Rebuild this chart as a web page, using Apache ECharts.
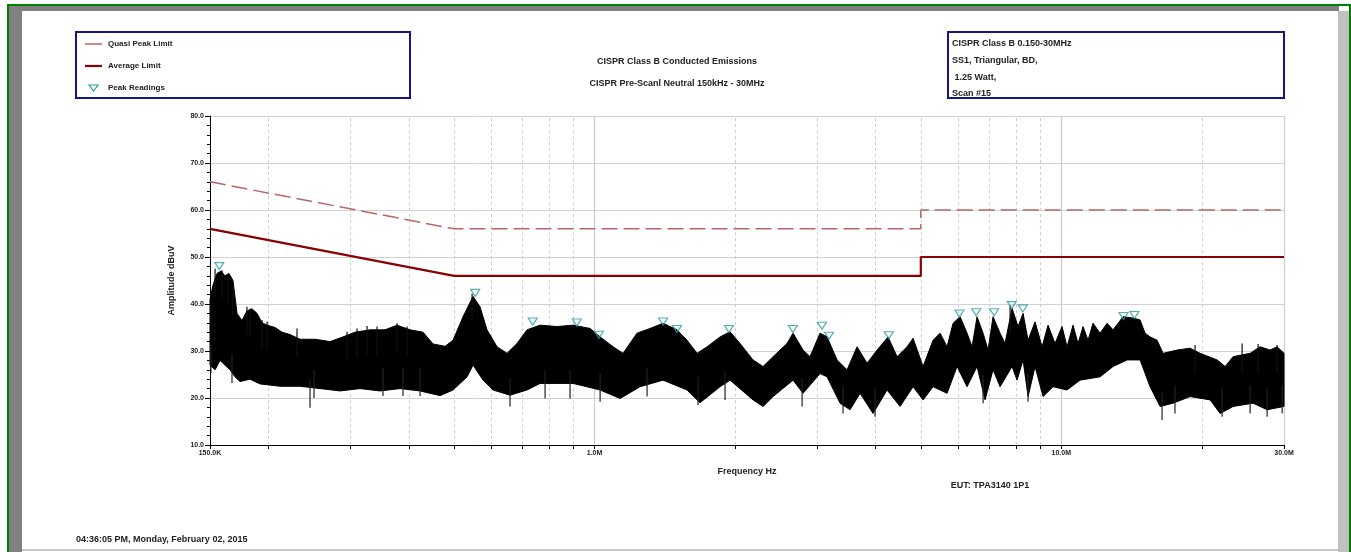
<!DOCTYPE html>
<html><head><meta charset="utf-8">
<script src="https://cdn.jsdelivr.net/npm/echarts@6/dist/echarts.min.js"></script>
<style>html,body{margin:0;padding:0;background:#fff}#c{width:1351px;height:552px}</style>
</head><body><div id="c"></div>
<script>
// Limits (frequency in MHz, level in dBuV)
const qpFreq  = [0.15, 0.5, 5, 5, 30];
const qpLevel = [66, 56, 56, 60, 60];
const avgFreq  = [0.15, 0.5, 5, 5, 30];
const avgLevel = [56, 46, 46, 50, 50];

// Peak readings
const peakFreq  = [0.157, 0.555, 0.737, 0.916, 1.022, 1.402, 1.502, 1.941, 2.66, 3.07, 3.18, 4.27, 6.05, 6.57, 7.18, 7.83, 8.27, 13.59, 14.34];
const peakLevel = [47.0, 41.3, 35.2, 35.0, 32.4, 35.2, 33.6, 33.6, 33.6, 34.3, 32.2, 32.3, 36.9, 37.2, 37.2, 38.7, 38.0, 36.4, 36.6];

// Scan trace: upper envelope
const upperFreq = [0.15,0.1522,0.1553,0.1584,0.1615,0.1647,0.168,0.1714,0.1756,0.18,0.1845,0.1892,0.1939,0.1988,0.2068,0.214,0.2226,0.2338,0.2518,0.2712,0.2891,0.3068,0.3303,0.3557,0.3774,0.4024,0.4291,0.4508,0.4783,0.4976,
0.5227,0.5491,0.5684,0.5883,0.6181,0.6494,0.6821,0.7166,0.764,0.8312,0.8998,0.9783,1.0278,1.0957,1.1511,1.2331,1.315,1.4018,1.5021,1.5783,1.6581,1.742,1.8572,1.9511,2.0496,2.1857,2.2964,2.4125,2.5844,2.6624,2.7971,2.8953,3.0416,3.1484,3.308,3.4754,3.6512,3.8358,4.0299,4.2545,4.4472,4.6728,4.8128,
5.0564,5.3126,5.4992,5.6924,5.8626,6.0687,6.2819,6.4386,6.5991,6.7979,6.9678,7.1414,7.3925,7.5768,7.8429,8.0786,8.2812,8.4878,8.7858,9.0945,9.3668,9.6957,10.036,10.287,10.596,10.861,11.132,11.41,11.694,12.109,12.534,12.911,13.565,14.249,14.75,15.117,15.495,16.04,16.524,17.705,18.88,19.836,21.572,22.439,23.34,25.38,26.663,28.013,28.997,30];
const upperLevel = [41,44,46.5,47,46,46.5,45,38,36.5,38.5,39,38,36,35.5,35,34,33.5,32.5,32.5,32,33,34,34.5,34.5,35.5,34.5,34,31.5,31,32.3,
37.3,41.6,39.4,34.5,30.9,29.5,31.6,34.5,35.5,35.2,35.5,34.8,33,30.9,29.5,33.8,34.8,35.9,34.5,32.3,29.5,30.9,33,34.1,31.6,28.1,26.7,28.8,31.6,33.8,30.2,28.8,33.8,33,28.1,26,30.9,27.4,30.2,33,28.8,30.9,32.7,
26.7,32.3,33.8,30.9,35.9,37.3,33.8,30.9,37.3,33.8,30.2,37.3,33.8,31.6,39.1,35.2,38,32.3,36.2,30.9,35.5,31.6,35.2,30.9,35.5,31.6,35.2,32.3,35.9,33.8,35.9,34.5,37.3,37,36.6,33.8,33,32.3,29.5,30.2,30.6,29.5,28.1,26.7,28.8,29.5,30.9,30.2,30.9,29.5];

// Scan trace: lower envelope
const lowerFreq = [0.15,0.1538,0.1576,0.1615,0.1656,0.1697,0.1739,0.1827,0.192,0.2119,0.2338,0.2581,0.2849,0.3144,0.347,0.383,0.4228,0.4667,0.4976,
0.5332,0.5491,0.5769,0.606,0.659,0.7166,0.764,0.8998,1.0278,1.1342,1.2517,1.4018,1.5783,1.6829,1.8572,1.9511,2.1857,2.2964,2.4125,2.6624,2.7971,3.0416,3.1484,3.3573,3.5271,3.7061,3.9509,4.2336,4.514,4.8128,
5.0564,5.3126,5.6924,5.9799,6.2819,6.5991,6.8655,7.1414,7.3925,7.8429,8.0385,8.2812,8.4878,8.7858,9.1395,9.6005,10.287,10.968,12.109,12.911,13.835,14.75,15.495,16.281,17.361,18.88,20.84,21.894,23.34,25.758,27.6,30];
const lowerLevel = [27,26,28,27,26,24.5,23.5,24,23,22.5,22.5,22,21.5,22,21.5,22,21.5,20.5,21.7,
24.5,27,23.8,21.7,20.6,21.7,23.1,23.1,21.7,19.9,22.4,23.8,21.7,19,22.4,23.8,19.6,18.2,20.3,23.8,21,25.2,24.5,18.9,17.5,21,16.7,21.7,18.2,22.4,
19.6,22.4,21,26.7,22.4,26.7,19.6,26,22.4,26.7,23.8,28.1,20.3,26.7,20.3,22.4,21.7,23.8,24.5,26.7,28.1,28.1,22.4,18.2,18.9,20.3,19.6,16.7,18.2,18.9,17.5,18.2];

// Individual spikes sticking out of the trace band
const spikeUpFreq  = [0.1538,0.1592,0.1639,0.168,0.18,0.1827,0.1939,0.1988,0.2304,0.2949,0.3098,0.3255,0.342,0.3774,0.3965,0.5465,7.768,19.35,24.4,26.4,29.0];
const spikeUpLevel = [47.5,47.2,45.8,43.6,39.4,39,36.6,36.3,34.8,34.1,34.8,35.3,35.2,35.9,35.2,42.2,39.8,31.3,31.6,31.5,31.3];
const spikeDownFreq  = [0.1507,0.1672,0.2457,0.2506,0.3522,0.3887,0.4228,0.659,0.7834,0.8861,1.0278,1.2957,1.6662,1.9035,2.784,3.407,3.99,6.798,8.488,16.44,17.52,22.11,25.38,27.6,29.73];
const spikeDownLevel = [25.3,23.2,17.9,20,20.4,20.4,20.4,18.2,19.9,19.9,19.2,20.3,18.5,19.6,18.2,16.7,16,18.9,19.2,15.3,16.7,16,16.7,16,16.7];

// Axis decorations
const xLabelValues = [0.15, 1, 10, 30];
const xTickValues = [0.15,0.2,0.3,0.4,0.5,0.6,0.7,0.8,0.9,1,2,3,4,5,6,7,8,9,10,20,30];
const xMinorGrid = [0.2,0.3,0.4,0.5,0.6,0.7,0.8,0.9,2,3,4,5,6,7,8,9,20];
const xMajorGrid = [1, 10, 30];

const FONT = 'Liberation Sans, Arial, sans-serif';
const TXT = '#222';
const QP_COLOR = '#b86666', AVG_COLOR = '#8b0000', PEAK_COLOR = '#2a9d9d';
const chart = echarts.init(document.getElementById('c'), null, {renderer:'canvas'});

function pairs(a, b){ return a.map((v,i)=>[v, b[i]]); }

const gridLines = xMinorGrid.map(f=>({xAxis:f, lineStyle:{color:'#cfcfcf', type:[3,3], width:1}}))
  .concat(xMajorGrid.map(f=>({xAxis:f, lineStyle:{color:'#cccccc', type:'solid', width:1.2}})));

function txt(x, y, s, opt){
  return Object.assign({type:'text', x:x, y:y, silent:true,
    style:Object.assign({text:s, fill:TXT, font:'bold 9px '+FONT, textVerticalAlign:'middle'}, opt||{})});
}

chart.setOption({
  animation:false,
  backgroundColor:'#ffffff',
  grid:{left:210, right:67, top:116, bottom:107, containLabel:false},
  xAxis:{
    type:'log', logBase:10, min:0.15, max:30,
    name:'Frequency Hz', nameLocation:'middle', nameGap:22,
    nameTextStyle:{fontSize:9, fontWeight:'bold', color:TXT, fontFamily:FONT},
    axisLine:{show:true, lineStyle:{color:'#000', width:1}},
    axisTick:{show:true, length:4, customValues:xTickValues, lineStyle:{color:'#000'}},
    axisLabel:{customValues:xLabelValues, fontSize:7, fontWeight:'bold', color:TXT, fontFamily:FONT, margin:5,
      showMinLabel:true, showMaxLabel:true,
      formatter:function(v){ return v < 1 ? (v*1000).toFixed(1)+'K' : v.toFixed(1)+'M'; }},
    splitLine:{show:false}, minorTick:{show:false}
  },
  yAxis:{
    type:'value', min:10, max:80, interval:10,
    name:'Amplitude dBuV', nameLocation:'middle', nameGap:34,
    nameTextStyle:{fontSize:9, fontWeight:'bold', color:TXT, fontFamily:FONT},
    axisLine:{show:true, lineStyle:{color:'#000', width:1}},
    axisTick:{show:true, length:5, lineStyle:{color:'#000'}},
    minorTick:{show:true, splitNumber:5, length:3, lineStyle:{color:'#000'}},
    axisLabel:{fontSize:7, fontWeight:'bold', color:TXT, fontFamily:FONT, margin:6,
      formatter:function(v){ return v.toFixed(1); }},
    splitLine:{show:true, lineStyle:{color:'#d2d2d2', width:1}}
  },
  series:[
    {name:'grid', type:'line', data:[], z:1, silent:true,
      markLine:{z:1, silent:true, symbol:['none','none'], label:{show:false}, animation:false, data:gridLines}},
    {name:'Trace', type:'custom', coordinateSystem:'cartesian2d', z:3, silent:true,
      data:[[upperFreq[0], upperLevel[0]]],
      renderItem:function(params, api){
        const pts = [];
        for (let i=0;i<upperFreq.length;i++) pts.push(api.coord([upperFreq[i], upperLevel[i]]));
        for (let i=lowerFreq.length-1;i>=0;i--) pts.push(api.coord([lowerFreq[i], lowerLevel[i]]));
        const children = [{type:'polygon', shape:{points:pts}, style:{fill:'#000', stroke:'#000', lineWidth:1}}];
        for (let i=0;i<spikeUpFreq.length;i++){
          const a = api.coord([spikeUpFreq[i], spikeUpLevel[i]]), b = api.coord([spikeUpFreq[i], spikeUpLevel[i]-6]);
          children.push({type:'line', shape:{x1:a[0], y1:a[1], x2:b[0], y2:b[1]}, style:{stroke:'#111', lineWidth:1.2}});
        }
        for (let i=0;i<spikeDownFreq.length;i++){
          const a = api.coord([spikeDownFreq[i], spikeDownLevel[i]]), b = api.coord([spikeDownFreq[i], spikeDownLevel[i]+6]);
          children.push({type:'line', shape:{x1:a[0], y1:a[1], x2:b[0], y2:b[1]}, style:{stroke:'#222', lineWidth:1.2}});
        }
        return {type:'group', children:children};
      }},
    {name:'Quasi Peak Limit', type:'line', data:pairs(qpFreq, qpLevel), symbol:'none', z:4,
      lineStyle:{color:QP_COLOR, width:1.5, type:[16,6]}, itemStyle:{color:QP_COLOR}},
    {name:'Average Limit', type:'line', data:pairs(avgFreq, avgLevel), symbol:'none', z:4,
      lineStyle:{color:AVG_COLOR, width:2.2}, itemStyle:{color:AVG_COLOR}},
    {name:'Peak Readings', type:'scatter', data:pairs(peakFreq, peakLevel), z:5,
      symbol:'triangle', symbolRotate:180, symbolSize:[9,7], symbolOffset:[0,-5],
      itemStyle:{color:'rgba(255,255,255,0)', borderColor:PEAK_COLOR, borderWidth:1.2}}
  ],
  graphic:[
    // page frame
    {type:'rect', silent:true, shape:{x:9, y:6, width:13, height:546}, style:{fill:'#808080'}},
    {type:'rect', silent:true, shape:{x:9, y:6, width:1330, height:5}, style:{fill:'#808080'}},
    {type:'rect', silent:true, shape:{x:1338, y:11, width:11, height:541}, style:{fill:'#c0c0c0'}},
    {type:'rect', silent:true, shape:{x:22, y:549, width:1316, height:2}, style:{fill:'#c8c8c8'}},
    {type:'rect', silent:true, shape:{x:7, y:5, width:2, height:547}, style:{fill:'#008000'}},
    {type:'rect', silent:true, shape:{x:7, y:4, width:1344, height:2}, style:{fill:'#008000'}},
    {type:'rect', silent:true, shape:{x:1349, y:5, width:2, height:547}, style:{fill:'#008000'}},
    // legend box
    {type:'rect', silent:true, shape:{x:76, y:32, width:334, height:66}, style:{fill:'none', stroke:'#16168a', lineWidth:2}},
    {type:'line', silent:true, shape:{x1:85, y1:44, x2:102, y2:44}, style:{stroke:QP_COLOR, lineWidth:1.5}},
    {type:'line', silent:true, shape:{x1:85, y1:66, x2:102, y2:66}, style:{stroke:AVG_COLOR, lineWidth:2.2}},
    {type:'polygon', silent:true, shape:{points:[[89,85],[98,85],[93.5,91]]}, style:{fill:'none', stroke:PEAK_COLOR, lineWidth:1.2}},
    txt(108, 44, 'Quasi Peak Limit', {font:'bold 8px '+FONT}),
    txt(108, 66, 'Average Limit', {font:'bold 8px '+FONT}),
    txt(108, 88, 'Peak Readings', {font:'bold 8px '+FONT}),
    // info box
    {type:'rect', silent:true, shape:{x:948, y:32, width:336, height:66}, style:{fill:'none', stroke:'#16168a', lineWidth:2}},
    txt(952, 44, 'CISPR Class B 0.150-30MHz'),
    txt(952, 61, 'SS1, Triangular, BD,'),
    txt(952, 78, ' 1.25 Watt,'),
    txt(952, 94, 'Scan #15'),
    // titles
    txt(677, 62, 'CISPR Class B Conducted Emissions', {textAlign:'center'}),
    txt(677, 84, 'CISPR Pre-Scanl Neutral 150kHz - 30MHz', {textAlign:'center'}),
    txt(990, 486, 'EUT: TPA3140 1P1', {textAlign:'center'}),
    txt(76, 540, '04:36:05 PM, Monday, February 02, 2015')
  ]
});
</script>
</body></html>
